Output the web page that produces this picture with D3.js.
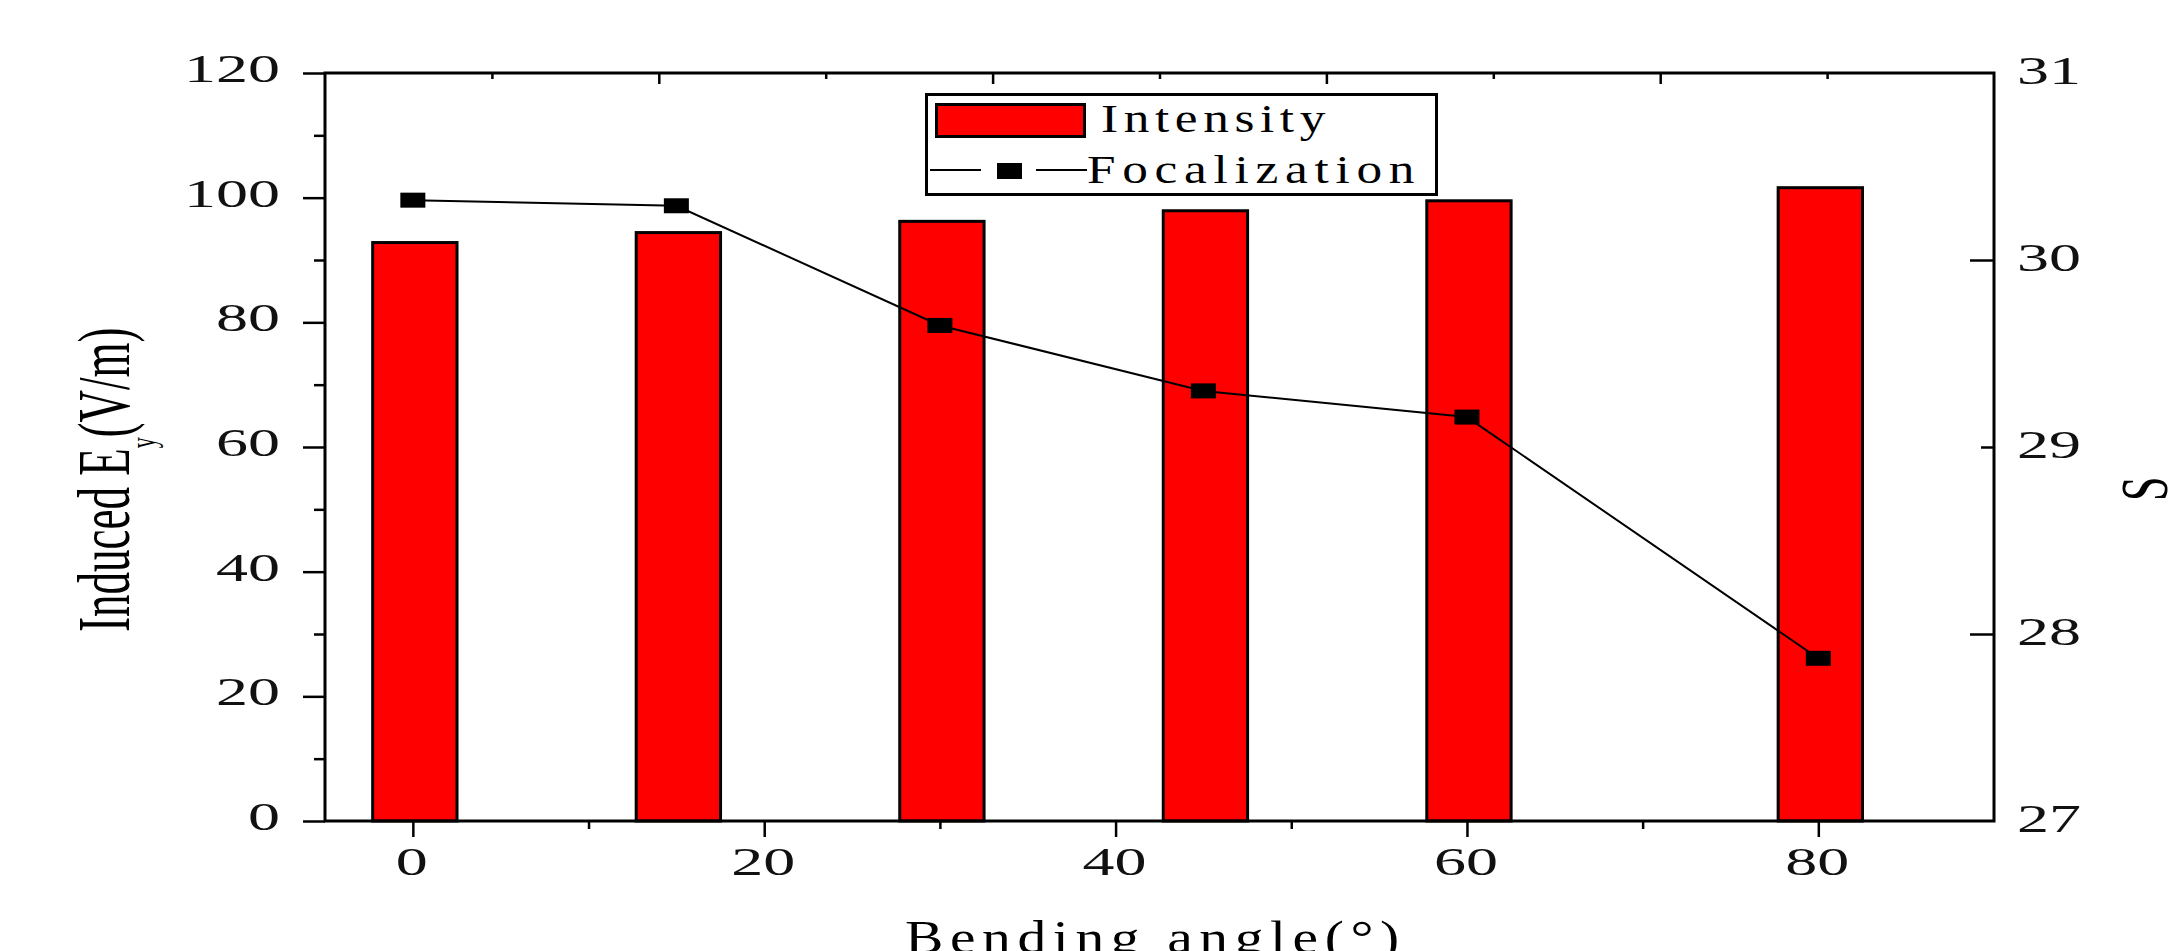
<!DOCTYPE html>
<html><head><meta charset="utf-8">
<script src="https://cdn.jsdelivr.net/npm/d3@7"></script>
<style>html,body{margin:0;padding:0;background:#fff;overflow:hidden}</style>
</head><body>
<svg id="c" width="2169" height="951"></svg>
<script>
// ---- data ----
const angles = [0, 15, 30, 45, 60, 80];
const intensity = [92.8, 94.4, 96.2, 97.9, 99.5, 101.6];
const focalization = [30.32, 30.29, 29.65, 29.30, 29.16, 27.87];
const xMajorTicks = [0, 20, 40, 60, 80];
const xMinorTicks = [10, 30, 50, 70];
const yLeftMajor = [0, 20, 40, 60, 80, 100, 120];
const yLeftMinor = [10, 30, 50, 70, 90, 110];
const yRightLabels = [27, 28, 29, 30, 31];
const yRightMajor = [28, 30];
const yRightMinor = [29];
const topMajor = [20, 40, 60, 80];
const topMinor = [10, 30, 50, 70, 90];
const seriesNames = ["Intensity", "Focalization"];
const xTitle = "Bending angle(°)";
const yLeftTitle = ["Induced E", "y", "(V/m)"];
const yRightTitle = "S";

// ---- layout ----
const L = 325, R = 1994, T = 73, B = 821;
const SX = 1.6;
const FONT = "'Liberation Serif','Times New Roman',serif";
const svg = d3.select("#c");
svg.append("rect").attr("width", 2169).attr("height", 951).attr("fill", "#fff");

const x = d3.scaleLinear().domain([-5, 90]).range([L, R]);
const yL = d3.scaleLinear().domain([0, 120]).range([B, T]);
const yR = d3.scaleLinear().domain([27, 31]).range([B, T]);
const xTop = d3.scaleLinear().domain([0, 100]).range([L, R]);
const barW = x(4.8) - x(0);

// bars
svg.append("g").selectAll("rect").data(angles).join("rect")
  .attr("x", d => x(d) - barW / 2 + 2)
  .attr("y", (d, i) => yL(intensity[i]))
  .attr("width", barW)
  .attr("height", (d, i) => B - yL(intensity[i]))
  .attr("fill", "#ff0000").attr("stroke", "#000").attr("stroke-width", 3);

// line + markers
const pts = angles.map((a, i) => [x(a), yR(focalization[i])]);
svg.append("path").attr("d", d3.line()(pts))
  .attr("fill", "none").attr("stroke", "#000").attr("stroke-width", 2);
svg.append("g").selectAll("rect").data(pts).join("rect")
  .attr("x", d => d[0] - 12.5).attr("y", d => d[1] - 7.5)
  .attr("width", 25).attr("height", 15).attr("fill", "#000");

// axes (tick lines only)
function tickAxis(axis, transform) {
  const g = svg.append("g").attr("transform", transform).call(axis);
  g.select(".domain").remove();
  g.selectAll("line").attr("stroke", "#000").attr("stroke-width", 2.5);
  g.selectAll("text").remove();
  return g;
}
tickAxis(d3.axisLeft(yL).tickValues(yLeftMajor).tickSize(22).tickFormat(""), `translate(${L},0)`);
tickAxis(d3.axisLeft(yL).tickValues(yLeftMinor).tickSize(11).tickFormat(""), `translate(${L},0)`);
tickAxis(d3.axisBottom(x).tickValues(xMajorTicks).tickSize(16).tickFormat(""), `translate(0,${B})`);
tickAxis(d3.axisBottom(x).tickValues(xMinorTicks).tickSize(8).tickFormat(""), `translate(0,${B})`);
tickAxis(d3.axisBottom(xTop).tickValues(topMajor).tickSize(11).tickFormat(""), `translate(0,${T})`);
tickAxis(d3.axisBottom(xTop).tickValues(topMinor).tickSize(6).tickFormat(""), `translate(0,${T})`);
tickAxis(d3.axisLeft(yR).tickValues(yRightMajor).tickSize(24).tickFormat(""), `translate(${R},0)`);
tickAxis(d3.axisLeft(yR).tickValues(yRightMinor).tickSize(13).tickFormat(""), `translate(${R},0)`);

// frame
svg.append("rect").attr("x", L).attr("y", T).attr("width", R - L).attr("height", B - T)
  .attr("fill", "none").attr("stroke", "#000").attr("stroke-width", 3);

// tick labels
function label(tx, ty, txt, anchor, size) {
  svg.append("text").attr("transform", `translate(${tx},${ty}) scale(${SX},1)`)
    .attr("text-anchor", anchor).attr("font-family", FONT).attr("font-size", size)
    .attr("fill", "#111").text(txt);
}
yLeftMajor.forEach(v => label(280, yL(v) + 9, v, "end", 40));
xMajorTicks.forEach(v => label(x(v) - 1, 875, v, "middle", 40));
yRightLabels.forEach(v => label(2017, yR(v) + 11, v, "start", 40));

// axis titles
const lt = svg.append("text")
  .attr("transform", `translate(129,632) rotate(-90) scale(1,1.65)`)
  .attr("font-family", FONT).attr("font-size", 45).attr("fill", "#000");
lt.append("tspan").text(yLeftTitle[0]);
lt.append("tspan").attr("font-size", 22).attr("dy", 16).text(yLeftTitle[1]);
lt.append("tspan").attr("dy", -16).text(yLeftTitle[2]);

svg.append("text")
  .attr("transform", `translate(2167,501) rotate(-90) scale(1,1.55)`)
  .attr("font-family", FONT).attr("font-size", 44).attr("fill", "#000").text(yRightTitle);

svg.append("text").attr("transform", "translate(905,953) scale(1.25,1)")
  .attr("font-family", FONT).attr("font-size", 46).attr("letter-spacing", 5.3)
  .attr("fill", "#000").text(xTitle);

// legend
const lg = svg.append("g");
lg.append("rect").attr("x", 926.5).attr("y", 94.5).attr("width", 510).attr("height", 100)
  .attr("fill", "#fff").attr("stroke", "#000").attr("stroke-width", 3);
lg.append("rect").attr("x", 936.5).attr("y", 104.5).attr("width", 148).attr("height", 32)
  .attr("fill", "#ff0000").attr("stroke", "#000").attr("stroke-width", 3);
lg.append("text").attr("transform", "translate(1101,132) scale(1.25,1)")
  .attr("font-family", FONT).attr("font-size", 41)
  .attr("letter-spacing", 4.5).attr("fill", "#000").text(seriesNames[0]);
lg.append("line").attr("x1", 930).attr("x2", 981).attr("y1", 170).attr("y2", 170)
  .attr("stroke", "#000").attr("stroke-width", 2);
lg.append("line").attr("x1", 1036).attr("x2", 1087).attr("y1", 170).attr("y2", 170)
  .attr("stroke", "#000").attr("stroke-width", 2);
lg.append("rect").attr("x", 997).attr("y", 163).attr("width", 25).attr("height", 16).attr("fill", "#000");
lg.append("text").attr("transform", "translate(1087,183) scale(1.25,1)")
  .attr("font-family", FONT).attr("font-size", 41)
  .attr("letter-spacing", 5.4).attr("fill", "#000").text(seriesNames[1]);
</script>
</body></html>
